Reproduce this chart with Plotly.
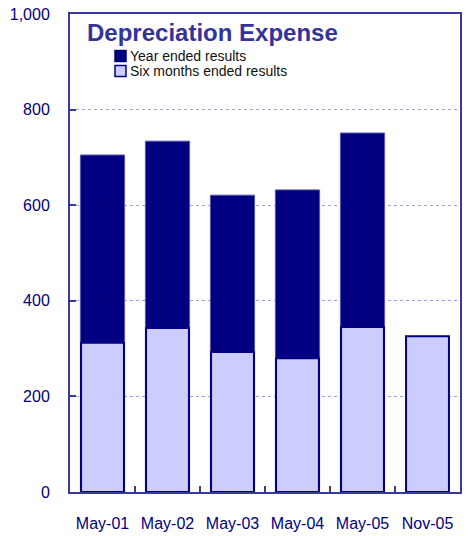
import plotly.graph_objects as go

categories = ["May-01", "May-02", "May-03", "May-04", "May-05", "Nov-05"]
year_ended = [705, 734, 621, 632, 751, None]
six_months = [312, 343, 293, 280, 345, 326]
y_ticks = [0, 200, 400, 600, 800, 1000]

W, H = 473, 536
# plot area in window pixels: x 70..460, y 14..492
X0, X1, Y0, Y1 = 70, 460, 14, 492
L, R, T, B = X0, W - X1, Y0, H - Y1

def px(x):
    return (x - X0) / (X1 - X0)

def py(y):
    return (Y1 - y) / (Y1 - Y0)

NAVY = "#000080"
LIGHT = "#ccccff"
FRAME = "#3a3a9e"
FONT = "Liberation Sans, Arial, sans-serif"

fig = go.Figure()
fig.add_trace(go.Bar(x=categories, y=year_ended, name="Year ended results",
                     marker=dict(color=NAVY, line=dict(color="#5555aa", width=1)),
                     width=0.68))
fig.add_trace(go.Bar(x=categories, y=six_months, name="Six months ended results",
                     marker=dict(color=LIGHT, line=dict(color=NAVY, width=2)),
                     width=0.66))

fig.update_layout(
    width=W, height=H,
    margin=dict(l=L, r=R, t=T, b=B, autoexpand=False),
    barmode="overlay",
    showlegend=False,
    plot_bgcolor="white", paper_bgcolor="white",
    font=dict(family=FONT, color=NAVY, size=16),
)
fig.update_xaxes(
    type="category", automargin=False,
    showline=True, linecolor=FRAME, linewidth=2, mirror=True,
    ticks="inside", tickson="boundaries", ticklen=6, tickwidth=2, tickcolor=FRAME,
    showgrid=False, ticklabelstandoff=16,
    tickfont=dict(size=16, color=NAVY, family=FONT),
)
fig.update_yaxes(
    range=[0, 1000], tickvals=y_ticks, tickformat=",", automargin=False,
    ticklabeloverflow="allow",
    showline=True, linecolor=FRAME, linewidth=2, mirror=True,
    ticks="inside", ticklen=6, tickwidth=2, tickcolor=FRAME,
    showgrid=True, gridcolor="#a0a0d8", gridwidth=1, griddash="dot",
    zeroline=False, ticklabelstandoff=15,
    tickfont=dict(size=16, color=NAVY, family=FONT),
)

fig.add_annotation(text="<b>Depreciation Expense</b>", xref="paper", yref="paper",
                   x=px(85), y=py(32), xanchor="left", yanchor="middle",
                   showarrow=False, font=dict(size=24, color="#333399", family=FONT))

legend_items = [("Year ended results", NAVY, 56), ("Six months ended results", LIGHT, 71)]
for label, color, yc in legend_items:
    fig.add_shape(type="rect", xref="paper", yref="paper",
                  x0=px(115), x1=px(126), y0=py(yc - 5.5), y1=py(yc + 5.5),
                  fillcolor=color, line=dict(color=NAVY, width=1.5))
    fig.add_annotation(text=label, xref="paper", yref="paper",
                       x=px(128), y=py(yc), xanchor="left", yanchor="middle",
                       showarrow=False, font=dict(size=14, color="#111111", family=FONT))

fig.write_html("out.html", config={"displayModeBar": False},
               post_script="document.body.style.margin='0';document.body.style.overflow='hidden';")
